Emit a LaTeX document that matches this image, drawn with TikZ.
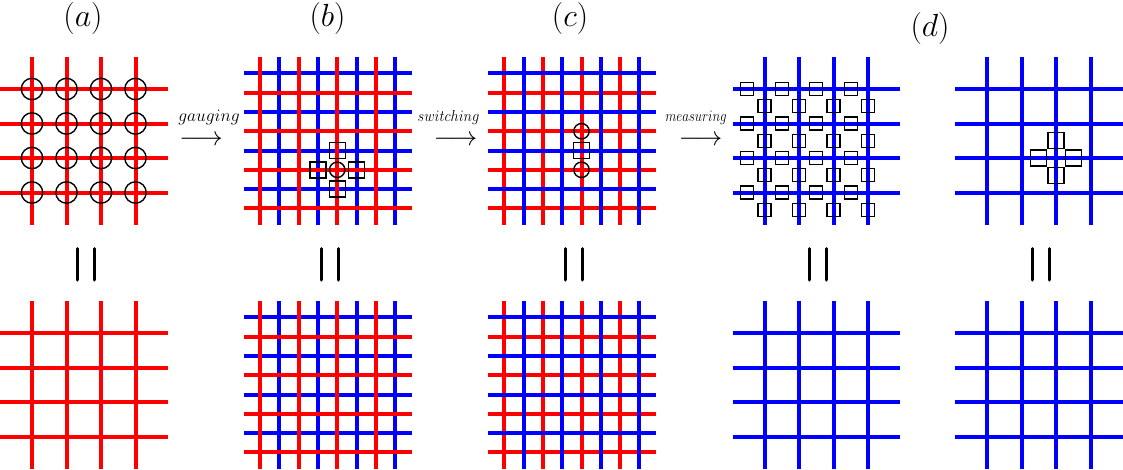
\RequirePackage{fix-cm}
\documentclass[tikz,border=0pt]{standalone}
\usepackage{amsmath}
\begin{document}
\begin{tikzpicture}[x=1pt,y=-1pt,
  redline/.style={draw=red,line width=4pt},
  blueline/.style={draw=blue,line width=4pt},
  ring/.style={draw=black,line width=1.4pt},
  sqbox/.style={draw=black,line width=1.4pt},
  eqbar/.style={draw=black,line width=3pt,line cap=round},
  panellabel/.style={inner sep=0pt,anchor=base,font=\fontsize{32}{36}\selectfont},
  arrowtext/.style={inner sep=0pt,anchor=base},
  arrowglyph/.style={inner sep=0pt,anchor=center,font=\fontsize{27}{30}\selectfont}]
\useasboundingbox (0,0) rectangle (1123,469);

% ---------- (a) top ----------
\foreach \i in {0,...,3} {
  \draw[redline] (0,{89+34.5*\i}) -- (168,{89+34.5*\i});
  \draw[redline] ({32+34.5*\i},57) -- ({32+34.5*\i},225);
}
\foreach \i in {0,...,3} \foreach \j in {0,...,3}
  \draw[ring] ({32+34.5*\i},{89+34.5*\j}) circle (10.7);

% ---------- (a) bottom ----------
\foreach \i in {0,...,3} {
  \draw[redline] (0,{333+34.5*\i}) -- (168,{333+34.5*\i});
  \draw[redline] ({32+34.5*\i},301) -- ({32+34.5*\i},469);
}

% ---------- (b) top : blue first, red on top ----------
\foreach \i in {1,3,5,7} {
  \draw[blueline] ({260+19.3*\i},57) -- ({260+19.3*\i},225);
}
\foreach \j in {0,2,4,6} {
  \draw[blueline] (244,{73.3+19.3*\j}) -- (411.5,{73.3+19.3*\j});
}
\foreach \i in {0,2,4,6} {
  \draw[redline] ({260+19.3*\i},57) -- ({260+19.3*\i},225);
}
\foreach \j in {1,3,5,7} {
  \draw[redline] (244,{73.3+19.3*\j}) -- (411.5,{73.3+19.3*\j});
}
\draw[ring] ({260+19.3*4},{73.3+19.3*5}) circle (7.7);
\foreach \dx/\dy in {0/-1,-1/0,1/0,0/1}
  \draw[sqbox] ({260+19.3*(4+\dx)-8},{73.3+19.3*(5+\dy)-8}) rectangle ++(16,16);

% ---------- (b) bottom ----------
\foreach \i in {1,3,5,7} {
  \draw[blueline] ({260+19.3*\i},301) -- ({260+19.3*\i},468.5);
}
\foreach \j in {0,2,4,6} {
  \draw[blueline] (244,{317.3+19.3*\j}) -- (411.5,{317.3+19.3*\j});
}
\foreach \i in {0,2,4,6} {
  \draw[redline] ({260+19.3*\i},301) -- ({260+19.3*\i},468.5);
}
\foreach \j in {1,3,5,7} {
  \draw[redline] (244,{317.3+19.3*\j}) -- (411.5,{317.3+19.3*\j});
}

% ---------- (c) top : red first, blue on top ----------
\foreach \i in {0,2,4,6} {
  \draw[redline] ({504.3+19.3*\i},57) -- ({504.3+19.3*\i},225);
}
\foreach \j in {1,3,5,7} {
  \draw[redline] (488,{73.3+19.3*\j}) -- (656,{73.3+19.3*\j});
}
\foreach \i in {1,3,5,7} {
  \draw[blueline] ({504.3+19.3*\i},57) -- ({504.3+19.3*\i},225);
}
\foreach \j in {0,2,4,6} {
  \draw[blueline] (488,{73.3+19.3*\j}) -- (656,{73.3+19.3*\j});
}
\draw[ring] ({504.3+19.3*4},{73.3+19.3*3}) circle (7.7);
\draw[ring] ({504.3+19.3*4},{73.3+19.3*5}) circle (7.7);
\draw[sqbox] ({504.3+19.3*4-8},{73.3+19.3*4-8}) rectangle ++(16,16);

% ---------- (c) bottom ----------
\foreach \i in {0,2,4,6} {
  \draw[redline] ({504.3+19.3*\i},301) -- ({504.3+19.3*\i},468.5);
}
\foreach \j in {1,3,5,7} {
  \draw[redline] (488,{317.3+19.3*\j}) -- (656,{317.3+19.3*\j});
}
\foreach \i in {1,3,5,7} {
  \draw[blueline] ({504.3+19.3*\i},301) -- ({504.3+19.3*\i},468.5);
}
\foreach \j in {0,2,4,6} {
  \draw[blueline] (488,{317.3+19.3*\j}) -- (656,{317.3+19.3*\j});
}

% ---------- (d) left top ----------
\foreach \i in {0,...,3} {
  \draw[blueline] (732.5,{89+34.5*\i}) -- (900,{89+34.5*\i});
  \draw[blueline] ({764.5+34.5*\i},57) -- ({764.5+34.5*\i},225);
}
\foreach \i in {0,...,3} \foreach \j in {0,...,3} {
  \draw[sqbox] ({764.5+34.5*\i-17.25-6.5},{89+34.5*\j-6.5}) rectangle ++(13,13);
  \draw[sqbox] ({764.5+34.5*\i-6.5},{89+34.5*\j+17.25-6.5}) rectangle ++(13,13);
}

% ---------- (d) left bottom ----------
\foreach \i in {0,...,3} {
  \draw[blueline] (732.5,{333+34.5*\i}) -- (900,{333+34.5*\i});
  \draw[blueline] ({764.5+34.5*\i},301) -- ({764.5+34.5*\i},469);
}

% ---------- (d) right top ----------
\foreach \i in {0,...,3} {
  \draw[blueline] (955,{89+34.5*\i}) -- (1123,{89+34.5*\i});
  \draw[blueline] ({987+34.5*\i},57) -- ({987+34.5*\i},225);
}
\foreach \dx/\dy in {0/-1,-1/0,1/0,0/1}
  \draw[sqbox] ({1056+17.25*\dx-8},{158+17.25*\dy-8}) rectangle ++(16,16);

% ---------- (d) right bottom ----------
\foreach \i in {0,...,3} {
  \draw[blueline] (955,{333+34.5*\i}) -- (1123,{333+34.5*\i});
  \draw[blueline] ({987+34.5*\i},301) -- ({987+34.5*\i},469);
}

% ---------- equality bars ----------
\foreach \c in {85.5,329.5,573.5,817.5,1040.5} {
  \draw[eqbar] ({\c-8.5},248.5) -- ({\c-8.5},280);
  \draw[eqbar] ({\c+8.5},248.5) -- ({\c+8.5},280);
}

% ---------- labels ----------
\node[panellabel] (la) at (83,26.5) {$(a)$};
\node[panellabel] (lb) at (327.5,26.5) {$(b)$};
\node[panellabel] (lc) at (570,26.5) {$(c)$};
\node[panellabel] (ld) at (930,36.5) {$(d)$};

\node[arrowtext] (t1) at (209,121.5) {\fontsize{17.5}{20}\selectfont$gauging$};
\node[arrowglyph] (a1) at (201,141) {$\longrightarrow$};
\node[arrowtext] (t2) at (448.5,121.5) {\scalebox{0.9}[1]{\fontsize{16}{18}\selectfont$switching$}};
\node[arrowglyph] (a2) at (455.5,141) {$\longrightarrow$};
\node[arrowtext] (t3) at (696,121.5) {\scalebox{0.81}[1]{\fontsize{16}{18}\selectfont$measuring$}};
\node[arrowglyph] (a3) at (700.5,141) {$\longrightarrow$};
\end{tikzpicture}
\end{document}
